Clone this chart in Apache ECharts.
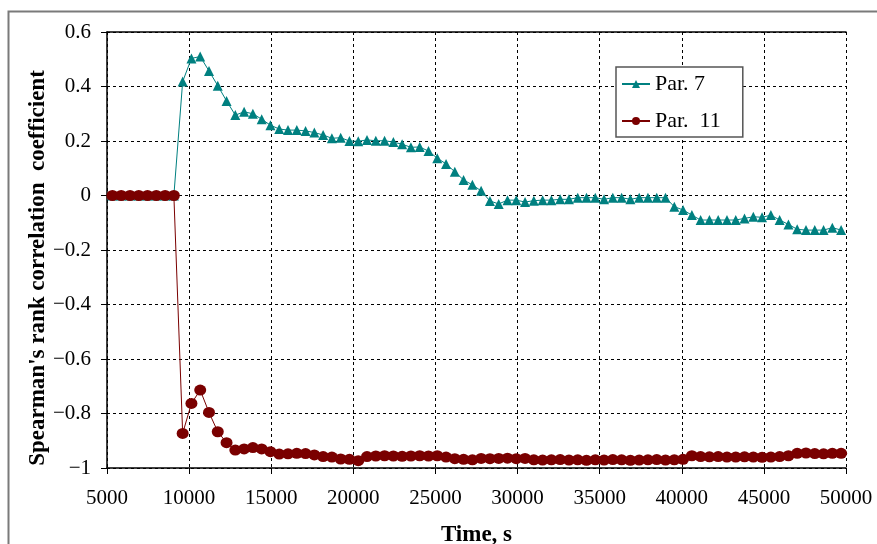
<!DOCTYPE html>
<html lang="en">
<head>
  <meta charset="UTF-8">
  <title>Spearman's rank correlation</title>
  <script src="https://cdn.jsdelivr.net/npm/echarts@6/dist/echarts.min.js"></script>
  <style>
    html, body { margin: 0; padding: 0; background: #fff; }
  </style>
</head>
<body>
  <div id="main" style="width: 877px;height:544px;"></div>
<script type="text/javascript">
  // time of each sample, s
  var times = [
    5330, 5865, 6399, 6934, 7468, 8003, 8538, 9072, 9607, 10141,
    10676, 11211, 11745, 12280, 12814, 13349, 13884, 14418, 14953, 15487,
    16022, 16557, 17091, 17626, 18160, 18695, 19230, 19764, 20299, 20833,
    21368, 21903, 22437, 22972, 23506, 24041, 24576, 25110, 25645, 26179,
    26714, 27249, 27783, 28318, 28852, 29387, 29922, 30456, 30991, 31525,
    32060, 32595, 33129, 33664, 34198, 34733, 35268, 35802, 36337, 36871,
    37406, 37941, 38475, 39010, 39544, 40079, 40614, 41148, 41683, 42217,
    42752, 43287, 43821, 44356, 44890, 45425, 45960, 46494, 47029, 47563,
    48098, 48633, 49167, 49702
  ];

  var par7 = [
    0, 0, 0, 0, 0, 0, 0, 0, 0.418, 0.503,
    0.51, 0.457, 0.403, 0.347, 0.295, 0.307, 0.30, 0.28, 0.258, 0.244,
    0.24, 0.24, 0.237, 0.231, 0.222, 0.21, 0.212, 0.20, 0.199, 0.204,
    0.201, 0.201, 0.196, 0.188, 0.177, 0.178, 0.163, 0.137, 0.116, 0.087,
    0.057, 0.039, 0.017, -0.02, -0.031, -0.017, -0.017, -0.024, -0.019, -0.017,
    -0.017, -0.014, -0.014, -0.008, -0.008, -0.008, -0.014, -0.008, -0.008, -0.014,
    -0.008, -0.008, -0.008, -0.008, -0.041, -0.053, -0.072, -0.09, -0.09, -0.09,
    -0.09, -0.09, -0.084, -0.078, -0.08, -0.072, -0.09, -0.106, -0.124, -0.127,
    -0.127, -0.127, -0.118, -0.127
  ];

  var par11 = [
    0, 0, 0, 0, 0, 0, 0, 0, -0.873, -0.763,
    -0.714, -0.796, -0.867, -0.907, -0.934, -0.930, -0.925, -0.930, -0.940, -0.949,
    -0.948, -0.946, -0.947, -0.952, -0.958, -0.960, -0.967, -0.968, -0.973, -0.958,
    -0.956, -0.955, -0.956, -0.957, -0.956, -0.955, -0.956, -0.955, -0.960, -0.966,
    -0.968, -0.970, -0.965, -0.966, -0.965, -0.964, -0.966, -0.965, -0.970, -0.971,
    -0.970, -0.969, -0.971, -0.970, -0.972, -0.970, -0.971, -0.969, -0.970, -0.972,
    -0.971, -0.970, -0.969, -0.971, -0.970, -0.968, -0.955, -0.958, -0.959, -0.958,
    -0.960, -0.960, -0.959, -0.960, -0.961, -0.960, -0.958, -0.955, -0.946, -0.945,
    -0.947, -0.948, -0.946, -0.946
  ];

  var seriesNames = ['Par. 7', 'Par.  11'];
  var xRange = [5000, 50000, 5000];
  var yRange = [-1, 0.6, 0.2];

  function pairs(xs, ys) {
    return xs.map(function (x, i) { return [x, ys[i]]; });
  }

  var font = "'Liberation Serif', 'Times New Roman', serif";
  var chart = echarts.init(document.getElementById('main'));

  var option = {
    animation: false,
    backgroundColor: '#fff',
    textStyle: { fontFamily: font, color: '#000' },
    grid: { left: 107, right: 31, top: 32, bottom: 76, containLabel: false, outerBoundsMode: 'none' },
    legend: {
      data: seriesNames,
      orient: 'vertical',
      left: 616,
      top: 67,
      itemWidth: 28,
      itemHeight: 10,
      itemGap: 15,
      padding: [6, 22, 5, 5],
      backgroundColor: '#fff',
      borderColor: '#555',
      borderWidth: 1.5,
      borderRadius: 0,
      textStyle: { fontFamily: font, fontSize: 22, color: '#000' }
    },
    graphic: [
      {
        type: 'rect',
        silent: true,
        shape: { x: 8.5, y: 11.5, width: 900, height: 600 },
        style: { fill: 'none', stroke: '#7a7a7a', lineWidth: 2 }
      },
      {
        type: 'text',
        x: 38,
        y: 268,
        rotation: Math.PI / 2,
        style: {
          text: "Spearman's rank correlation  coefficient",
          fontFamily: font,
          fontSize: 23,
          fontWeight: 'bold',
          fill: '#000',
          align: 'center',
          verticalAlign: 'middle'
        }
      }
    ],
    xAxis: [
      {
        type: 'value',
        min: xRange[0],
        max: xRange[1],
        interval: xRange[2],
        name: 'Time, s',
        nameLocation: 'middle',
        nameGap: 56,
        nameTextStyle: { fontFamily: font, fontSize: 23, fontWeight: 'bold', color: '#000' },
        axisLine: { show: true, onZero: false, lineStyle: { color: '#000', width: 1.5 } },
        axisTick: { show: true, length: 6, lineStyle: { color: '#000' } },
        axisLabel: {
          fontFamily: font, fontSize: 21, color: '#000', margin: 20,
          formatter: function (v) { return String(v); }
        },
        splitLine: { show: true, lineStyle: { color: '#000', type: [3, 3], width: 1 } }
      },
      {
        type: 'value',
        position: 'top',
        min: xRange[0],
        max: xRange[1],
        interval: xRange[2],
        axisLine: { show: true, onZero: false, lineStyle: { color: '#000', width: 1.5 } },
        axisTick: { show: false },
        axisLabel: { show: false },
        splitLine: { show: false }
      }
    ],
    yAxis: {
      type: 'value',
      min: yRange[0],
      max: yRange[1],
      interval: yRange[2],
      axisLine: { show: true, lineStyle: { color: '#000', width: 1.5 } },
      axisTick: { show: true, length: 6, lineStyle: { color: '#000' } },
      axisLabel: {
        fontFamily: font,
        fontSize: 21,
        color: '#000',
        margin: 16,
        formatter: function (v) {
          var r = +v.toFixed(1);
          return (r < 0 ? '\u2212' : '') + Math.abs(r);
        }
      },
      splitLine: { show: true, lineStyle: { color: '#000', type: [3, 3], width: 1 } }
    },
    series: [
      {
        name: seriesNames[0],
        type: 'line',
        data: pairs(times, par7),
        symbol: 'triangle',
        symbolSize: 10,
        itemStyle: { color: '#008080' },
        lineStyle: { color: '#008080', width: 1 },
        z: 2
      },
      {
        name: seriesNames[1],
        type: 'line',
        data: pairs(times, par11),
        symbol: 'circle',
        symbolSize: [12, 11],
        itemStyle: { color: '#7a0000' },
        lineStyle: { color: '#7a0000', width: 1 },
        z: 3
      }
    ]
  };

  chart.setOption(option);
</script>
</body>
</html>
